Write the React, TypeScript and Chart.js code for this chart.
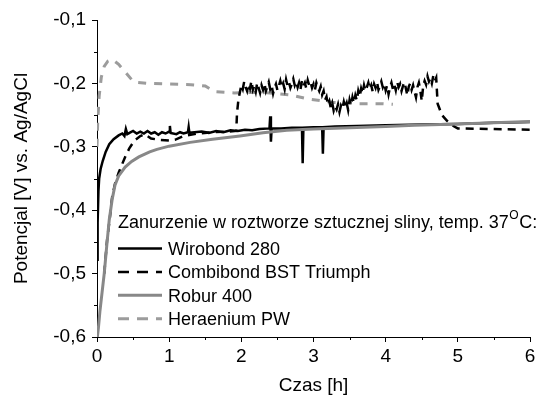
import React, { useEffect, useRef } from 'react';
import { Chart, registerables } from 'chart.js';

Chart.register(...registerables);

const xTicks = [0, 1, 2, 3, 4, 5, 6];
const xMinorTicks = [0.5, 1.5, 2.5, 3.5, 4.5, 5.5];
const yTicks = [-0.6, -0.5, -0.4, -0.3, -0.2, -0.1];
const yMinorTicks = [-0.55, -0.45, -0.35, -0.25, -0.15];

const seriesNames = ['Wirobond 280', 'Combibond BST Triumph', 'Robur 400', 'Heraenium PW'];
const legendTitleMain = 'Zanurzenie w roztworze sztucznej sliny, temp. 37';
const legendTitleSup = 'O';
const legendTitleEnd = 'C:';
const xTitle = 'Czas [h]';
const yTitle = 'Potencjal [V] vs. Ag/AgCl';

// [time h, potential V]
const wirobond: [number, number][] = [
  [0, -0.36], [0.005, -0.48], [0.012, -0.42], [0.02, -0.37], [0.03, -0.35], [0.05, -0.335],
  [0.08, -0.322], [0.12, -0.308], [0.17, -0.296], [0.23, -0.288], [0.3, -0.282], [0.35, -0.279],
  [0.38, -0.283], [0.4, -0.272], [0.42, -0.28], [0.45, -0.278], [0.5, -0.275], [0.55, -0.279],
  [0.6, -0.276], [0.65, -0.279], [0.7, -0.275], [0.75, -0.279], [0.8, -0.277], [0.85, -0.281],
  [0.9, -0.277], [0.95, -0.279], [1.0, -0.276], [1.01, -0.267], [1.02, -0.278], [1.1, -0.28],
  [1.15, -0.277], [1.2, -0.279], [1.26, -0.277], [1.27, -0.269], [1.28, -0.278], [1.35, -0.277],
  [1.45, -0.276], [1.55, -0.278], [1.65, -0.275], [1.75, -0.277], [1.85, -0.274], [1.95, -0.275],
  [2.05, -0.273], [2.15, -0.274], [2.25, -0.272], [2.39, -0.271], [2.4, -0.252], [2.41, -0.292],
  [2.42, -0.271], [2.55, -0.271], [2.7, -0.27], [2.84, -0.27], [2.85, -0.326], [2.86, -0.27],
  [3.0, -0.269], [3.12, -0.269], [3.13, -0.311], [3.14, -0.269], [3.3, -0.268], [3.6, -0.267],
  [4.0, -0.266], [4.5, -0.265], [5.0, -0.264], [5.5, -0.262], [6.0, -0.261],
];

const combibond: [number, number][] = [
  [0.1, -0.5], [0.14, -0.447], [0.18, -0.41], [0.21, -0.379], [0.25, -0.358],
  [0.3, -0.341], [0.35, -0.327], [0.39, -0.316], [0.45, -0.302], [0.52, -0.29], [0.6, -0.283],
  [0.66, -0.28], [0.75, -0.287], [0.87, -0.289], [1.0, -0.29], [1.08, -0.289], [1.2, -0.283],
  [1.4, -0.279], [1.6, -0.277], [1.8, -0.276], [1.93, -0.275], [1.94, -0.247], [1.96, -0.225],
  [1.98, -0.214], [2.0, -0.203], [2.02, -0.209], [2.04, -0.197], [2.06, -0.206], [2.08, -0.212],
  [2.1, -0.201], [2.12, -0.208], [2.14, -0.196], [2.16, -0.21], [2.18, -0.204], [2.2, -0.213],
  [2.22, -0.199], [2.24, -0.207], [2.26, -0.215], [2.28, -0.203], [2.3, -0.21], [2.32, -0.2],
  [2.34, -0.212], [2.36, -0.205], [2.38, -0.198], [2.4, -0.209], [2.42, -0.203], [2.44, -0.216],
  [2.46, -0.207], [2.48, -0.201], [2.5, -0.211], [2.52, -0.204], [2.54, -0.196], [2.56, -0.206],
  [2.58, -0.2], [2.6, -0.209], [2.62, -0.194], [2.64, -0.204], [2.66, -0.198], [2.68, -0.207],
  [2.7, -0.201], [2.72, -0.193], [2.74, -0.203], [2.76, -0.197], [2.78, -0.206], [2.8, -0.199],
  [2.82, -0.209], [2.84, -0.196], [2.86, -0.204], [2.88, -0.199], [2.9, -0.208], [2.92, -0.195],
  [2.94, -0.203], [2.96, -0.198], [2.98, -0.207], [3.0, -0.201], [3.02, -0.21], [3.04, -0.199],
  [3.06, -0.206], [3.08, -0.212], [3.1, -0.205], [3.12, -0.218], [3.14, -0.212], [3.16, -0.226],
  [3.18, -0.221], [3.2, -0.234], [3.22, -0.228], [3.24, -0.239], [3.26, -0.231], [3.28, -0.243],
  [3.3, -0.236], [3.32, -0.241], [3.34, -0.233], [3.36, -0.245], [3.38, -0.235], [3.4, -0.24],
  [3.42, -0.229], [3.44, -0.238], [3.46, -0.231], [3.48, -0.242], [3.5, -0.226], [3.52, -0.235],
  [3.54, -0.222], [3.56, -0.231], [3.58, -0.219], [3.6, -0.227], [3.62, -0.212], [3.64, -0.221],
  [3.66, -0.208], [3.68, -0.216], [3.7, -0.203], [3.72, -0.212], [3.74, -0.206], [3.76, -0.199],
  [3.78, -0.209], [3.8, -0.203], [3.82, -0.213], [3.84, -0.201], [3.86, -0.207], [3.88, -0.198],
  [3.9, -0.21], [3.92, -0.204], [3.94, -0.197], [3.96, -0.206], [3.98, -0.2], [4.0, -0.211],
  [4.02, -0.203], [4.04, -0.217], [4.06, -0.206], [4.08, -0.199], [4.1, -0.209], [4.12, -0.202],
  [4.14, -0.211], [4.16, -0.198], [4.18, -0.206], [4.2, -0.201], [4.22, -0.212], [4.24, -0.204],
  [4.26, -0.198], [4.28, -0.208], [4.3, -0.219], [4.32, -0.205], [4.34, -0.2], [4.36, -0.21],
  [4.38, -0.203], [4.4, -0.213], [4.42, -0.222], [4.44, -0.206], [4.46, -0.199], [4.48, -0.211],
  [4.5, -0.228], [4.52, -0.204], [4.54, -0.196], [4.56, -0.202], [4.58, -0.189], [4.6, -0.197],
  [4.62, -0.192], [4.64, -0.2], [4.66, -0.188], [4.68, -0.196], [4.7, -0.191], [4.72, -0.232],
  [4.74, -0.238], [4.78, -0.25], [4.85, -0.259], [4.95, -0.268], [5.0, -0.271], [5.5, -0.272],
  [6.0, -0.273],
];

const robur: [number, number][] = [
  [0.005, -0.6], [0.02, -0.585], [0.04, -0.56], [0.07, -0.53], [0.1, -0.5], [0.14, -0.45],
  [0.17, -0.415], [0.21, -0.383], [0.25, -0.36], [0.3, -0.346], [0.39, -0.332], [0.48, -0.323],
  [0.58, -0.316], [0.73, -0.308], [0.83, -0.304], [1.0, -0.299], [1.29, -0.293], [1.6, -0.288],
  [1.98, -0.283], [2.3, -0.278], [2.63, -0.274], [3.0, -0.272], [3.5, -0.27], [4.0, -0.268],
  [4.4, -0.266], [5.0, -0.264], [5.5, -0.262], [6.0, -0.26],
];

const heraenium: [number, number][] = [
  [0, -0.3], [0.01, -0.26], [0.03, -0.22], [0.06, -0.19], [0.1, -0.173], [0.15, -0.165],
  [0.21, -0.162], [0.3, -0.17], [0.39, -0.182], [0.51, -0.198], [0.7, -0.2], [1.0, -0.201],
  [1.3, -0.202], [1.5, -0.204], [1.63, -0.213], [1.9, -0.215], [2.3, -0.214], [2.67, -0.218],
  [2.95, -0.225], [3.27, -0.23], [3.6, -0.232], [3.95, -0.232], [4.1, -0.233],
];

const FONT = '"Liberation Sans", Arial, sans-serif';
const BLACK = '#000000';
const GRAY_SOLID = '#888888';
const GRAY_DASH = '#9c9c9c';

const seriesStyles = [
  { color: BLACK, width: 2.5, dash: [] as number[], legendDash: [] as number[], order: 2 },
  { color: BLACK, width: 2.5, dash: [8, 6], legendDash: [11, 8], order: 3 },
  { color: GRAY_SOLID, width: 3, dash: [] as number[], legendDash: [] as number[], order: 1 },
  { color: GRAY_DASH, width: 3, dash: [8, 8], legendDash: [11, 8], order: 4 },
];

const toPoints = (arr: [number, number][]) => arr.map(([x, y]) => ({ x, y }));

const overlayPlugin = {
  id: 'overlay',
  afterDraw(chart: any) {
    const { ctx, chartArea, scales } = chart;
    ctx.save();
    ctx.strokeStyle = BLACK;
    ctx.lineWidth = 1;
    xMinorTicks.forEach((v) => {
      const x = Math.round(scales.x.getPixelForValue(v)) + 0.5;
      ctx.beginPath();
      ctx.moveTo(x, chartArea.bottom);
      ctx.lineTo(x, chartArea.bottom + 3);
      ctx.stroke();
    });
    yMinorTicks.forEach((v) => {
      const y = Math.round(scales.y.getPixelForValue(v)) + 0.5;
      ctx.beginPath();
      ctx.moveTo(chartArea.left, y);
      ctx.lineTo(chartArea.left - 3, y);
      ctx.stroke();
    });

    // legend
    const lx = chartArea.left + 21;
    const titleBase = chartArea.bottom - 109;
    ctx.fillStyle = BLACK;
    ctx.textBaseline = 'alphabetic';
    ctx.textAlign = 'left';
    ctx.font = `18px ${FONT}`;
    ctx.fillText(legendTitleMain, lx, titleBase);
    let tx = lx + ctx.measureText(legendTitleMain).width;
    ctx.font = `12px ${FONT}`;
    ctx.fillText(legendTitleSup, tx + 0.5, titleBase - 9);
    tx += ctx.measureText(legendTitleSup).width + 1;
    ctx.font = `18px ${FONT}`;
    ctx.fillText(legendTitleEnd, tx, titleBase);

    const rowH = 23.4;
    seriesNames.forEach((name, i) => {
      const cy = chartArea.bottom - 88.5 + i * rowH;
      const st = seriesStyles[i];
      ctx.beginPath();
      ctx.strokeStyle = st.color;
      ctx.lineWidth = st.width;
      ctx.setLineDash(st.legendDash);
      ctx.moveTo(lx, cy);
      ctx.lineTo(lx + 44, cy);
      ctx.stroke();
      ctx.setLineDash([]);
      ctx.fillStyle = BLACK;
      ctx.font = `18px ${FONT}`;
      ctx.fillText(name, lx + 50, cy + 6.5);
    });
    ctx.restore();
  },
};

export default function App() {
  const canvasRef = useRef<HTMLCanvasElement | null>(null);

  useEffect(() => {
    if (!canvasRef.current) return;
    const seriesData = [wirobond, combibond, robur, heraenium];
    const chart = new Chart(canvasRef.current, {
      type: 'line',
      data: {
        datasets: seriesData.map((d, i) => ({
          label: seriesNames[i],
          data: toPoints(d),
          borderColor: seriesStyles[i].color,
          backgroundColor: seriesStyles[i].color,
          borderWidth: seriesStyles[i].width,
          borderDash: seriesStyles[i].dash,
          pointRadius: 0,
          tension: 0,
          fill: false,
          order: seriesStyles[i].order,
        })),
      },
      options: {
        animation: false,
        responsive: false,
        devicePixelRatio: 1,
        layout: { padding: { left: 0, right: 23, top: 20, bottom: 0 } },
        plugins: {
          legend: { display: false },
          tooltip: { enabled: false },
        },
        scales: {
          x: {
            type: 'linear',
            min: 0,
            max: 6,
            afterBuildTicks: (s: any) => {
              s.ticks = xTicks.map((value) => ({ value }));
            },
            afterFit: (s: any) => {
              s.height = 60;
            },
            ticks: {
              color: BLACK,
              font: { family: FONT, size: 19 },
              padding: 3,
              callback: (v: any) => String(v),
            },
            grid: { drawOnChartArea: false, tickLength: 5, color: BLACK, lineWidth: 1 },
            border: { display: true, color: BLACK, width: 1 },
            title: {
              display: true,
              text: xTitle,
              color: BLACK,
              font: { family: FONT, size: 19 },
              padding: { top: 0, bottom: 0 },
            },
          },
          y: {
            type: 'linear',
            min: -0.6,
            max: -0.1,
            afterBuildTicks: (s: any) => {
              s.ticks = yTicks.map((value) => ({ value }));
            },
            afterFit: (s: any) => {
              s.width = 97;
            },
            ticks: {
              color: BLACK,
              font: { family: FONT, size: 19 },
              padding: 6,
              callback: (v: any) => Number(v).toFixed(1).replace('.', ','),
            },
            grid: { drawOnChartArea: false, tickLength: 5, color: BLACK, lineWidth: 1 },
            border: { display: true, color: BLACK, width: 1 },
            title: {
              display: true,
              text: yTitle,
              color: BLACK,
              font: { family: FONT, size: 19 },
              padding: { top: 10, bottom: 0 },
            },
          },
        },
      },
      plugins: [overlayPlugin],
    });
    return () => chart.destroy();
  }, []);

  return (
    <div style={{ position: 'absolute', left: 0, top: 0, width: 553, height: 397, background: '#fff' }}>
      <canvas ref={canvasRef} width={553} height={397} />
    </div>
  );
}
